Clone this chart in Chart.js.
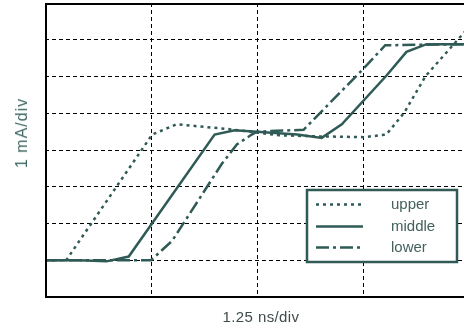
<!DOCTYPE html>
<html>
<head>
    <meta charset="UTF-8">
    <title>Current vs time</title>
    <script src="https://cdn.jsdelivr.net/npm/chart.js@4"></script>
    <style>
        body { margin: 0; background: #fff; overflow: hidden; }
        #wrap { position: relative; width: 464px; height: 328px; overflow: hidden; }
        #chart { position: absolute; left: 0; top: 0; }
        .axis-title { position: absolute; font-family: "Liberation Sans", Arial, sans-serif; font-size: 15px; white-space: nowrap; }
        #xtitle { left: 261px; top: 316px; transform: translate(-50%, -50%); color: #3f4a4a; letter-spacing: 0.4px; }
        #ytitle { left: 22px; top: 133px; transform: translate(-50%, -50%) rotate(-90deg); color: #3f6864; font-size: 16px; letter-spacing: 1px; }
    </style>
</head>
<body>
<div id="wrap">
    <canvas id="chart" width="472" height="328"></canvas>
    <div class="axis-title" id="xtitle">1.25 ns/div</div>
    <div class="axis-title" id="ytitle">1 mA/div</div>
</div>

<script>
    // x in divisions (1.25 ns each), y in divisions (1 mA each)
    const seriesNames = ['upper', 'middle', 'lower'];

    const upperX = [0, 0.2, 0.98, 1.01, 1.24, 1.76, 2.21, 2.59, 3.01, 3.22, 3.39, 3.59, 3.94, 4.05];
    const upperY = [1.0, 1.0, 4.29, 4.42, 4.70, 4.56, 4.40, 4.37, 4.35, 4.42, 5.02, 6.01, 7.15, 7.5];

    const middleX = [0, 0.32, 0.58, 0.79, 1.60, 1.79, 2.38, 2.61, 2.80, 3.22, 3.41, 3.60, 4.0];
    const middleY = [1.0, 1.0, 0.97, 1.10, 4.42, 4.54, 4.42, 4.33, 4.70, 6.02, 6.67, 6.88, 6.88];

    const lowerX = [0, 1.0, 1.20, 1.67, 1.81, 1.95, 2.0, 2.44, 3.0, 3.21, 4.0];
    const lowerY = [1.0, 1.0, 1.53, 3.63, 4.15, 4.42, 4.5, 4.55, 6.2, 6.85, 6.88];

    const xDivs = 4;
    const yDivs = 8;

    const lineColor = '#2f5a56';

    function pts(xs, ys) {
        return xs.map((x, i) => ({ x: x, y: ys[i] }));
    }

    const frame = {
        id: 'frame',
        afterDatasetsDraw(chart) {
            const a = chart.chartArea;
            const ctx = chart.ctx;
            ctx.save();
            ctx.strokeStyle = '#000';
            ctx.lineWidth = 2;
            ctx.setLineDash([]);
            ctx.strokeRect(a.left + 1, a.top + 1, a.right - a.left - 1, a.bottom - a.top - 1);
            ctx.restore();
        }
    };

    const boxLegend = {
        id: 'boxLegend',
        afterDraw(chart) {
            const ctx = chart.ctx;
            const bx = 307, by = 190, bw = 150, bh = 72;
            ctx.save();
            ctx.fillStyle = '#fff';
            ctx.fillRect(bx, by, bw, bh);
            ctx.strokeStyle = lineColor;
            ctx.lineWidth = 2.5;
            ctx.setLineDash([]);
            ctx.strokeRect(bx, by, bw, bh);
            const rows = [204.5, 226.5, 247.5];
            chart.data.datasets.forEach((ds, i) => {
                ctx.beginPath();
                ctx.strokeStyle = ds.borderColor;
                ctx.lineWidth = ds.borderWidth;
                ctx.setLineDash(ds.borderDash || []);
                ctx.moveTo(bx + 9, rows[i]);
                ctx.lineTo(bx + 56, rows[i]);
                ctx.stroke();
                ctx.setLineDash([]);
                ctx.fillStyle = '#43605d';
                ctx.font = '15px "Liberation Sans", Arial, sans-serif';
                ctx.textBaseline = 'middle';
                ctx.fillText(ds.label, bx + 84, rows[i]);
            });
            ctx.restore();
        }
    };

    function axis(max) {
        return {
            type: 'linear',
            min: 0,
            max: max,
            ticks: { display: false, stepSize: 1 },
            grid: { color: '#000', lineWidth: 1, drawTicks: false },
            border: { display: false, dash: [4, 3] },
            title: { display: false }
        };
    }

    new Chart(document.getElementById('chart'), {
        type: 'line',
        data: {
            datasets: [
                {
                    label: seriesNames[0],
                    data: pts(upperX, upperY),
                    borderColor: lineColor,
                    borderWidth: 2.5,
                    borderDash: [3, 4]
                },
                {
                    label: seriesNames[1],
                    data: pts(middleX, middleY),
                    borderColor: lineColor,
                    borderWidth: 2.5,
                    borderDash: []
                },
                {
                    label: seriesNames[2],
                    data: pts(lowerX, lowerY),
                    borderColor: lineColor,
                    borderWidth: 2.5,
                    borderDash: [13, 4, 3, 4]
                }
            ]
        },
        options: {
            responsive: false,
            animation: false,
            devicePixelRatio: 1,
            layout: { padding: { left: 45, top: 3, right: 3, bottom: 31 } },
            elements: { point: { radius: 0 }, line: { tension: 0 } },
            scales: {
                x: axis(xDivs),
                y: axis(yDivs)
            },
            plugins: {
                legend: { display: false },
                tooltip: { enabled: false }
            }
        },
        plugins: [frame, boxLegend]
    });
</script>
</body>
</html>
